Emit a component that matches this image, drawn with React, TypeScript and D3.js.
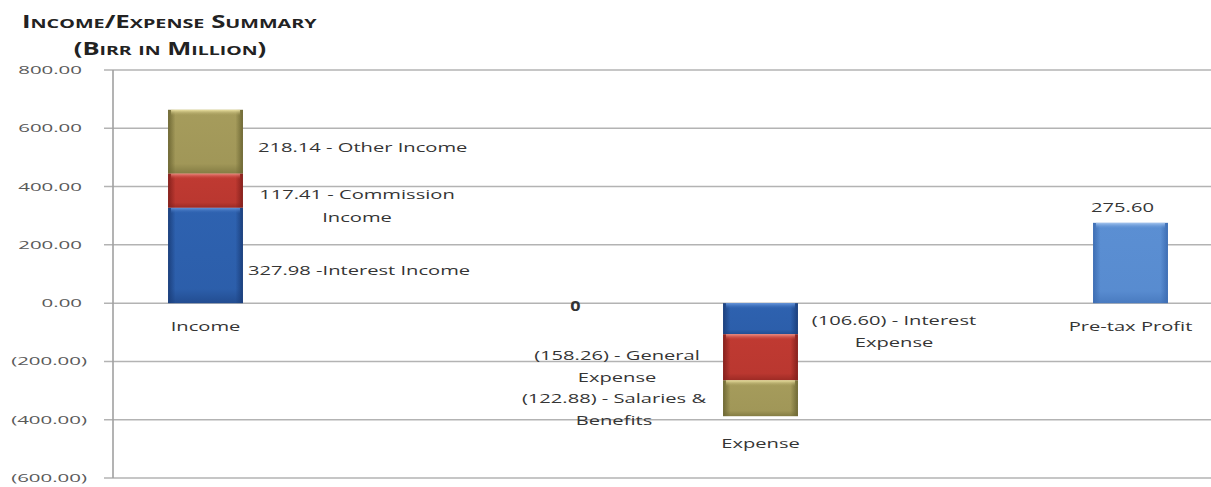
import React from "react";
import * as d3 from "d3";

const categories = ["Income", "gap1", "gap2", "Expense", "gap3", "Pre-tax Profit"];
const incomeSeries = ["Interest Income", "Commission Income", "Other Income"];
const incomeValues = [327.98, 117.41, 218.14];
const expenseSeries = ["Interest Expense", "General Expense", "Salaries & Benefits"];
const expenseValues = [-106.6, -158.26, -122.88];
const profitValue = 275.6;
const yTicks = [800, 600, 400, 200, 0, -200, -400, -600];
const incomeLabels = [["327.98 -Interest Income"], ["117.41 - Commission", "Income"], ["218.14 - Other Income"]];
const expenseLabels = [["(106.60) - Interest", "Expense"], ["(158.26) - General", "Expense"], ["(122.88) - Salaries &", "Benefits"]];

const W = 1211, H = 487;
const FONT = "'Open Sans', 'DejaVu Sans', sans-serif";
const SX = 1.55;

const fmt = (v: number) => (v < 0 ? `(${d3.format(",.2f")(-v)})` : d3.format(",.2f")(v));

const palettes: Record<string, [string, string, string]> = {
  blue: ["#1b3f7c", "#2e62b0", "#6d9be0"],
  blueL: ["#3d6db3", "#5b8fd3", "#a9c8f0"],
  red: ["#85201c", "#c03a32", "#f0958a"],
  olive: ["#6e6834", "#a69c5c", "#f0e6a6"],
};

type TProps = { x: number; y: number; anchor?: string; size?: number; sx?: number; weight?: number; fill?: string; children: React.ReactNode };
const T = ({ x, y, anchor = "start", size = 13, sx = SX, weight = 400, fill = "#353535", children }: TProps) => (
  <text
    transform={`translate(${x},${y}) scale(${sx},1)`}
    textAnchor={anchor}
    style={{ fontFamily: FONT, fontSize: size, fontWeight: weight, fill }}
  >
    {children}
  </text>
);

// small caps: letters that are upper case in the source get the big size
const SmallCaps = ({ text, big, small }: { text: string; big: number; small: number }) => {
  const runs: { s: string; big: boolean }[] = [];
  for (const ch of text) {
    const isBig = !/[a-z]/.test(ch);
    const last = runs[runs.length - 1];
    if (last && last.big === isBig) last.s += ch;
    else runs.push({ s: ch, big: isBig });
  }
  return (
    <>
      {runs.map((r, i) => (
        <tspan key={i} fontSize={r.big ? big : small}>{r.s.toUpperCase()}</tspan>
      ))}
    </>
  );
};

export default function App() {
  const x = d3.scaleBand<string>().domain(categories).range([113, 1223]).padding(0);
  const y = d3.scaleLinear().domain([-600, 800]).range([478, 70]);
  const bw = x.bandwidth() * 0.405;
  const segColors = ["blue", "red", "olive"];

  const stack = (vals: number[]) => {
    let acc = 0;
    return vals.map((v) => {
      const s = acc;
      acc += v;
      return [s, acc] as [number, number];
    });
  };
  const incStack = stack(incomeValues);
  const expStack = stack(expenseValues);

  const bar = (cat: string, s: [number, number], color: string, key: string) => {
    const x0 = (x(cat) as number) + (x.bandwidth() - bw) / 2;
    const y0 = y(Math.max(s[0], s[1]));
    const y1 = y(Math.min(s[0], s[1]));
    const h = y1 - y0;
    return (
      <g key={key}>
        <rect x={x0} y={y0} width={bw} height={h} fill={`url(#h-${color})`} />
        <rect x={x0} y={y0} width={bw} height={h} fill={`url(#b-${color})`} />
        <rect x={x0 + 3} y={y0} width={bw - 6} height={Math.min(6, h)} fill={`url(#v-${color})`} />
      </g>
    );
  };

  const mid = (c: string) => (x(c) as number) + x.bandwidth() / 2;
  const incX = mid("Income");
  const expX = mid("Expense");
  const proX = mid("Pre-tax Profit");
  const zeroX = mid("gap2");

  return (
    <svg width={W} height={H} style={{ position: "absolute", left: 0, top: 0, background: "#fff" }}>
      <defs>
        {Object.entries(palettes).map(([k, [dk, md, lt]]) => (
          <React.Fragment key={k}>
            <linearGradient id={`h-${k}`} x1="0" x2="1" y1="0" y2="0">
              <stop offset="0%" stopColor={dk} />
              <stop offset="10%" stopColor={md} />
              <stop offset="90%" stopColor={md} />
              <stop offset="100%" stopColor={dk} />
            </linearGradient>
            <linearGradient id={`b-${k}`} x1="0" x2="0" y1="0" y2="1">
              <stop offset="0%" stopColor={dk} stopOpacity={0} />
              <stop offset="85%" stopColor={dk} stopOpacity={0.1} />
              <stop offset="100%" stopColor={dk} stopOpacity={0.6} />
            </linearGradient>
            <linearGradient id={`v-${k}`} x1="0" x2="0" y1="0" y2="1">
              <stop offset="0%" stopColor={lt} stopOpacity={0.95} />
              <stop offset="100%" stopColor={md} stopOpacity={0} />
            </linearGradient>
          </React.Fragment>
        ))}
      </defs>

      {/* title */}
      <text transform={`translate(22,28) scale(1.52,1)`} style={{ fontFamily: FONT, fontWeight: 700, fill: "#222" }}>
        <SmallCaps text="Income/Expense Summary" big={17} small={13} />
      </text>
      <text transform={`translate(170,55) scale(1.5,1)`} textAnchor="middle" style={{ fontFamily: FONT, fontWeight: 700, fill: "#222" }}>
        <SmallCaps text="(Birr in Million)" big={17} small={13} />
      </text>

      {/* gridlines */}
      {yTicks.map((t) => (
        <g key={t}>
          <line x1={104} x2={W} y1={y(t)} y2={y(t)} stroke="#b3b3b3" strokeWidth={1.5} />
          <T x={t < 0 ? 87 : 82} y={y(t) + 4} anchor="end" size={11} sx={1.86} fill="#5a5a5a">
            {fmt(t)}
          </T>
        </g>
      ))}
      <line x1={113} x2={113} y1={y(800)} y2={y(-600)} stroke="#a0a0a0" strokeWidth={1.6} />

      {/* bars */}
      {incStack.map((s, i) => bar("Income", s, segColors[i], `inc${i}`))}
      {expStack.map((s, i) => bar("Expense", s, segColors[i], `exp${i}`))}
      {bar("Pre-tax Profit", [0, profitValue], "blueL", "pro")}

      {/* income labels */}
      <T x={248} y={y(113) + 5}>{incomeLabels[0][0]}</T>
      <T x={357} y={y(374) + 5} anchor="middle">{incomeLabels[1][0]}</T>
      <T x={357} y={y(374) + 28} anchor="middle">{incomeLabels[1][1]}</T>
      <T x={258} y={y(535) + 5}>{incomeLabels[2][0]}</T>

      {/* expense labels */}
      <T x={894} y={y(-58) + 5} anchor="middle">{expenseLabels[0][0]}</T>
      <T x={894} y={y(-58) + 27} anchor="middle">{expenseLabels[0][1]}</T>
      <T x={617} y={y(-178) + 5} anchor="middle">{expenseLabels[1][0]}</T>
      <T x={617} y={y(-178) + 27} anchor="middle">{expenseLabels[1][1]}</T>
      <T x={614} y={y(-326) + 5} anchor="middle">{expenseLabels[2][0]}</T>
      <T x={614} y={y(-326) + 27} anchor="middle">{expenseLabels[2][1]}</T>

      {/* zero label */}
      <T x={zeroX} y={y(-6) + 6} anchor="middle" size={15} sx={1.2} weight={700} fill="#333">0</T>

      {/* profit label */}
      <T x={proX - 8} y={y(330) + 5} anchor="middle">{fmt(profitValue)}</T>

      {/* category labels */}
      <T x={incX} y={y(0) + 28} anchor="middle">Income</T>
      <T x={expX} y={y(-387.74) + 32} anchor="middle">Expense</T>
      <T x={proX} y={y(0) + 28} anchor="middle">Pre-tax Profit</T>
    </svg>
  );
}
